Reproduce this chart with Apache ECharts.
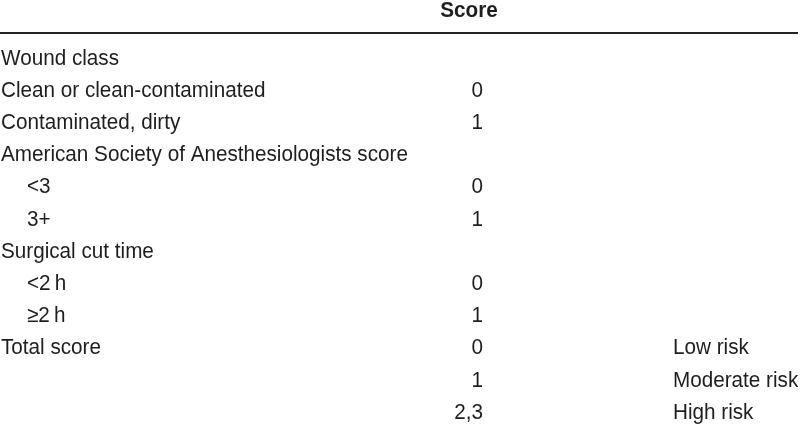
<!DOCTYPE html>
<html>
<head>
<meta charset="utf-8">
<script src="https://cdn.jsdelivr.net/npm/echarts@6/dist/echarts.min.js"></script>
<style>html,body{margin:0;padding:0;background:#fff}#c{width:800px;height:429px}</style>
</head>
<body>
<div id="c"></div>
<script>
const headerText = "Score";
const rowLabels = [
  "Wound class",
  "Clean or clean-contaminated",
  "Contaminated, dirty",
  "American Society of Anesthesiologists score",
  "<3",
  "3+",
  "Surgical cut time",
  "<2\u2009h",
  "\u22652\u2009h",
  "Total score",
  "",
  ""
];
const rowIndent = [0, 0, 0, 0, 1, 1, 0, 1, 1, 0, 0, 0];
const scores = ["", "0", "1", "", "0", "1", "", "0", "1", "0", "1", "2,3"];
const risks = ["", "", "", "", "", "", "", "", "", "Low risk", "Moderate risk", "High risk"];

const FONT = "'Liberation Sans',Arial,sans-serif";
const TXT = '#1e1e1e';
const FS = 22;
const SX = 0.94;

const labelX = 1, indentX = 27, scoreX = 483, riskX = 673;
const headerRow = -1.466, ruleRow = -0.792;

function textEl(api, x, y, text, align, bold) {
  const p = api.coord([x, y]);
  return {
    type: 'text', x: p[0], y: p[1], scaleX: SX,
    style: {
      text: text, x: 0, y: 0,
      align: align, verticalAlign: 'middle',
      fontFamily: FONT, fontSize: FS, fontWeight: bold ? 'bold' : 'normal', fill: TXT
    }
  };
}

function textSeries(name, xs, texts, align) {
  return {
    type: 'custom', name,
    coordinateSystem: 'cartesian2d',
    data: texts.map((t, i) => [xs(i), i]),
    renderItem: (params, api) => textEl(api, api.value(0), api.value(1), texts[params.dataIndex], align, false)
  };
}

const chart = echarts.init(document.getElementById('c'), null, {renderer: 'canvas'});
chart.setOption({
  animation: false,
  backgroundColor: '#fff',
  grid: {left: 0, right: 0, top: 0, bottom: 0},
  xAxis: {type: 'value', min: 0, max: 800, show: false},
  yAxis: {type: 'value', inverse: true, min: -1.817, max: 11.506, show: false},
  series: [
    textSeries('labels', i => rowIndent[i] ? indentX : labelX, rowLabels, 'left'),
    textSeries('scores', () => scoreX, scores, 'right'),
    textSeries('risks', () => riskX, risks, 'left'),
    {
      type: 'custom', name: 'header',
      data: [[469, headerRow]],
      renderItem: (params, api) => textEl(api, api.value(0), api.value(1), headerText, 'center', true),
      markLine: {
        silent: true, symbol: 'none', label: {show: false},
        lineStyle: {color: '#222', width: 2, type: 'solid'},
        data: [[{coord: [0, ruleRow]}, {coord: [798, ruleRow]}]]
      }
    }
  ]
});
</script>
</body>
</html>
